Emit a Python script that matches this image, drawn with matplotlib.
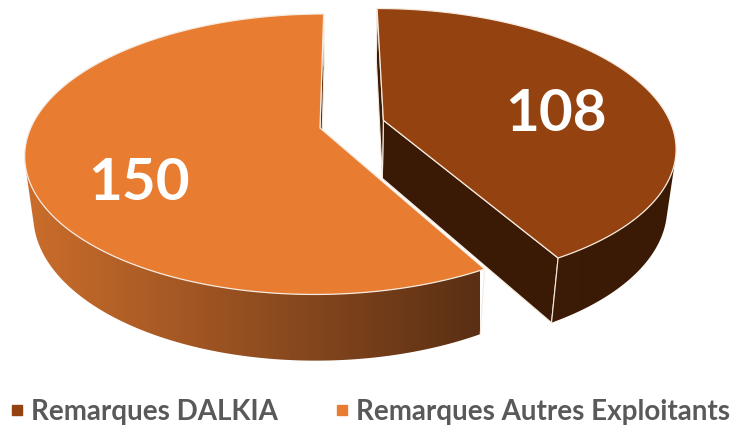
import numpy as np
import matplotlib
matplotlib.use("Agg")
import matplotlib.pyplot as plt
from matplotlib.patches import Polygon
from matplotlib.lines import Line2D

# data
labels = ["Remarques DALKIA", "Remarques Autres Exploitants"]
values = [108, 150]
explode = [0.228, 0.0]

top_colors = ["#934210", "#E87D32"]
side_left = ["#3E1D07", "#CC6E2C"]
side_right = ["#3A1A05", "#5A2F14"]
edge_col = "#F6EADF"

# fake 3d camera (tuned by eye)
ELEV = np.radians(29.6)
SE, CE = np.sin(ELEV), np.cos(ELEV)
D = 4.65
FX, FY = 1345, 1274
CAM_X = 0.08
CX, CY = 320 + FX * CAM_X / D, 128
H = 0.252


def project(x, y, z):
    depth = D + y * CE - z * SE
    sx = CX + FX * (x - CAM_X) / depth
    sy = CY - FY * (y * SE + z * CE) / depth
    return sx, sy


def facing(px, py, pz, nx, ny):
    cx, cy = CAM_X, -D * CE
    return (cx - px) * nx + (cy - py) * ny > 0


fig = plt.figure(figsize=(7.39, 4.32), dpi=100)
ax = fig.add_axes([0, 0, 1, 1])
ax.set_xlim(0, 739)
ax.set_ylim(432, 0)
ax.axis("off")

total = sum(values)
start = 90.0
slices = []
for v, ex in zip(values, explode):
    sweep = 360.0 * v / total
    hi = start
    lo = start - sweep
    mid = np.radians((hi + lo) / 2)
    slices.append((np.radians(lo), np.radians(hi), ex * np.cos(mid), ex * np.sin(mid)))
    start = lo

label_pos = [(0.61, np.radians(4.0)), (0.69, np.radians(213.5))]
grad_span = [(380, 680), (20, 480)]

for i, (lo, hi, ox, oy) in enumerate(slices):
    th = np.linspace(lo, hi, 400)
    xs, ys = ox + np.cos(th), oy + np.sin(th)
    tx, ty = project(xs, ys, 0)
    bx, by = project(xs, ys, -H)

    # radial faces
    for a, sgn in [(lo, -1), (hi, 1)]:
        nx, ny = np.cos(a + sgn * np.pi / 2), np.sin(a + sgn * np.pi / 2)
        rx, ry = ox + np.cos(a), oy + np.sin(a)
        if facing((ox + rx) / 2, (oy + ry) / 2, -H / 2, nx, ny):
            p = [project(ox, oy, 0), project(rx, ry, 0), project(rx, ry, -H), project(ox, oy, -H)]
            ax.add_patch(Polygon(p, closed=True, fc=side_right[i], ec=edge_col, lw=0.8, zorder=2 * i))

    # outer curved side, with a left-to-right gradient
    vis = np.array([facing(x, y, 0, np.cos(t), np.sin(t)) for x, y, t in zip(xs, ys, th)])
    idx = np.where(vis)[0]
    if len(idx) > 1:
        k0, k1 = idx[0], idx[-1] + 1
        side = list(zip(tx[k0:k1], ty[k0:k1])) + list(zip(bx[k0:k1], by[k0:k1]))[::-1]
        poly = Polygon(side, closed=True, fc="none", ec="none")
        ax.add_patch(poly)
        cmap = matplotlib.colors.LinearSegmentedColormap.from_list("s%d" % i, [side_left[i], side_right[i]])
        g0, g1 = grad_span[i]
        im = ax.imshow(np.linspace(0, 1, 256)[None, :], cmap=cmap, aspect="auto",
                       extent=(g0, g1, 432, 0), zorder=2 * i, interpolation="bilinear")
        im.set_clip_path(poly)
        ax.set_xlim(0, 739)
        ax.set_ylim(432, 0)

    # vertical corner lines at the slice ends
    for a in (lo, hi):
        rx, ry = ox + np.cos(a), oy + np.sin(a)
        p1, p2 = project(rx, ry, 0), project(rx, ry, -H)
        ax.plot([p1[0], p2[0]], [p1[1], p2[1]], color=edge_col, lw=0.8, zorder=2 * i + 0.5)

    # top surface
    ax0, ay0 = project(ox, oy, 0)
    top = [(ax0, ay0)] + list(zip(tx, ty))
    ax.add_patch(Polygon(top, closed=True, fc=top_colors[i], ec=edge_col, lw=0.9, zorder=2 * i + 1))

    r, phi = label_pos[i]
    lx, ly = project(ox + r * np.cos(phi), oy + r * np.sin(phi), 0)
    ax.text(lx, ly, str(values[i]), color="white", fontsize=42, fontweight="bold",
            family="Lato", ha="center", va="center", zorder=10)

handles = [Line2D([], [], marker="s", ls="", color=c, markersize=7) for c in top_colors]
leg = ax.legend(handles, labels, loc="lower center", bbox_to_anchor=(0.5, -0.028), ncol=2,
                frameon=False, handletextpad=0.2, columnspacing=2.0, handlelength=0.6,
                borderpad=0.2, prop={"family": "Lato", "weight": "bold", "size": 20})
for t in leg.get_texts():
    t.set_color("#595959")

fig.savefig("out.png", dpi=100)
